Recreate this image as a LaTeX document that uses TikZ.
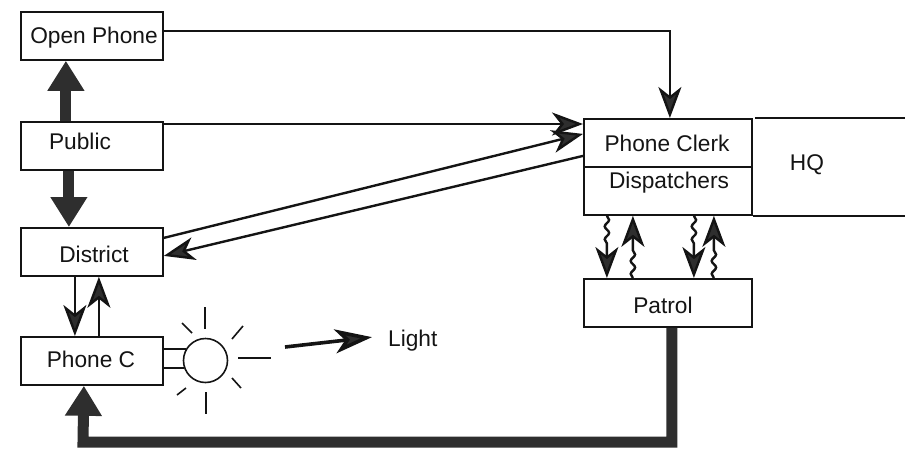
\documentclass[tikz,border=0pt]{standalone}
\usepackage{fontspec}
\setmainfont{Liberation Sans}
\usetikzlibrary{arrows.meta,calc,decorations.pathmorphing}
\definecolor{ink}{gray}{0.08}
\definecolor{headink}{gray}{0.18}
\tikzset{
  boxnode/.style={draw=ink,line width=1.8pt,fill=white,inner sep=0pt,minimum width=142pt,minimum height=48pt,anchor=north west},
  wideboxnode/.style={boxnode,minimum width=168pt},
  txt/.style={inner sep=0pt,font=\fontsize{22.7}{24}\selectfont,text=ink,anchor=base},
  thinarrow/.style={draw=ink,line width=2.4pt,-{Stealth[length=31pt,width=23pt,inset=9pt,fill=headink]}},
  thickarrow/.style={draw=headink,line width=11pt,-{Triangle[length=30pt,width=35pt,fill=headink]}},
  wavy/.style={thinarrow,decorate,decoration={snake,segment length=13pt,amplitude=2.2pt,post length=30pt}},
  ray/.style={draw=ink,line width=1.6pt},
  wire/.style={draw=ink,line width=1.8pt},
}
\begin{document}
\begin{tikzpicture}[x=1pt,y=-1pt]
\useasboundingbox (0,0) rectangle (905,448);
% boxes
\node[boxnode] (open) at (20,11) {};
\node[boxnode] (public) at (20,121) {};
\node[boxnode] (district) at (20,227) {};
\node[boxnode] (phonec) at (20,336) {};
\node[wideboxnode] (clerk) at (583,118) {};
\node[wideboxnode] (disp) at (583,166) {};
\node[wideboxnode] (patrol) at (583,278) {};
% labels
\node[txt] (topen) at (94,43) {Open Phone};
\node[txt] (tpublic) at (80,149) {Public};
\node[txt] (tdistrict) at (94,262) {District};
\node[txt] (tphonec) at (91,367) {Phone C};
\node[txt] (tclerk) at (667,151) {Phone Clerk};
\node[txt] (tdisp) at (669,188) {Dispatchers};
\node[txt] (tpatrol) at (663,313) {Patrol};
\node[txt] (thq) at (807,170) {HQ};
\node[txt,anchor=base west] (tlight) at (388,346) {Light};
% HQ open box
\coordinate (hqa) at (905,119);
\coordinate (hqb) at (905,214);
\draw[wire] ([xshift=2pt]clerk.north east) -- (clerk.north east -| hqa);
\draw[wire] (disp.south east) -- (disp.south east -| hqb);
% thin connectors
\coordinate (openout) at (162,31);
\coordinate (pubout) at (162,124);
\coordinate (pubin) at (583,124);
\draw[thinarrow] (openout) -| ([xshift=2pt]clerk.north);
\draw[thinarrow] (pubout) -- (pubin);
\draw[thinarrow] ([yshift=14pt]district.east) -- ([yshift=9pt]clerk.west);
\draw[thinarrow] ([yshift=-13pt]clerk.west) -- ([yshift=-4pt]district.east);
\draw[thinarrow] ([xshift=-17pt]district.south) -- ([xshift=-17pt]phonec.north);
\draw[thinarrow] ([xshift=7pt]phonec.north) -- ([xshift=7pt]district.south);
% thick connectors
\draw[thickarrow] ([xshift=-26pt]public.north) -- ([xshift=-26pt]open.south);
\draw[thickarrow] ([xshift=-23pt]public.south) -- ([xshift=-23pt]district.north);
\coordinate (bend) at (83,442);
\draw[thickarrow,line join=miter] ([xshift=4pt]patrol.south) |- (bend) -- ([xshift=-8pt]phonec.south);
% radio links
\draw[wavy] ([xshift=-61pt]disp.south) -- ([xshift=-61pt]patrol.north);
\draw[wavy] ([xshift=-35pt]patrol.north) -- ([xshift=-35pt]disp.south);
\draw[wavy] ([xshift=26pt]disp.south) -- ([xshift=26pt]patrol.north);
\draw[wavy] ([xshift=46pt]patrol.north) -- ([xshift=46pt]disp.south);
% bulb
\node[draw=ink,line width=1.6pt,circle,minimum size=44pt,inner sep=0pt] (bulb) at (205.5,360.5) {};
\coordinate (lighttail) at (285,347);
\draw[wire] (bulb.150 -| phonec.east) -- (bulb.150);
\draw[wire] (bulb.200 -| phonec.east) -- (bulb.200);
\draw[ray] (205,307) -- (205,329);
\draw[ray] (206,392) -- (206,414);
\draw[ray] (238,358) -- (271,358);
\draw[ray] (232,339) -- (243,326);
\draw[ray] (232,378) -- (241,388);
\draw[ray] (182,323) -- (192,333);
\draw[ray] (177,395) -- (186,388);
\draw[draw=ink,line width=3.6pt,-{Stealth[length=37pt,width=24pt,inset=10pt,fill=headink]}] (lighttail) -- ([xshift=-16pt,yshift=3pt]tlight.west);
\end{tikzpicture}
\end{document}
